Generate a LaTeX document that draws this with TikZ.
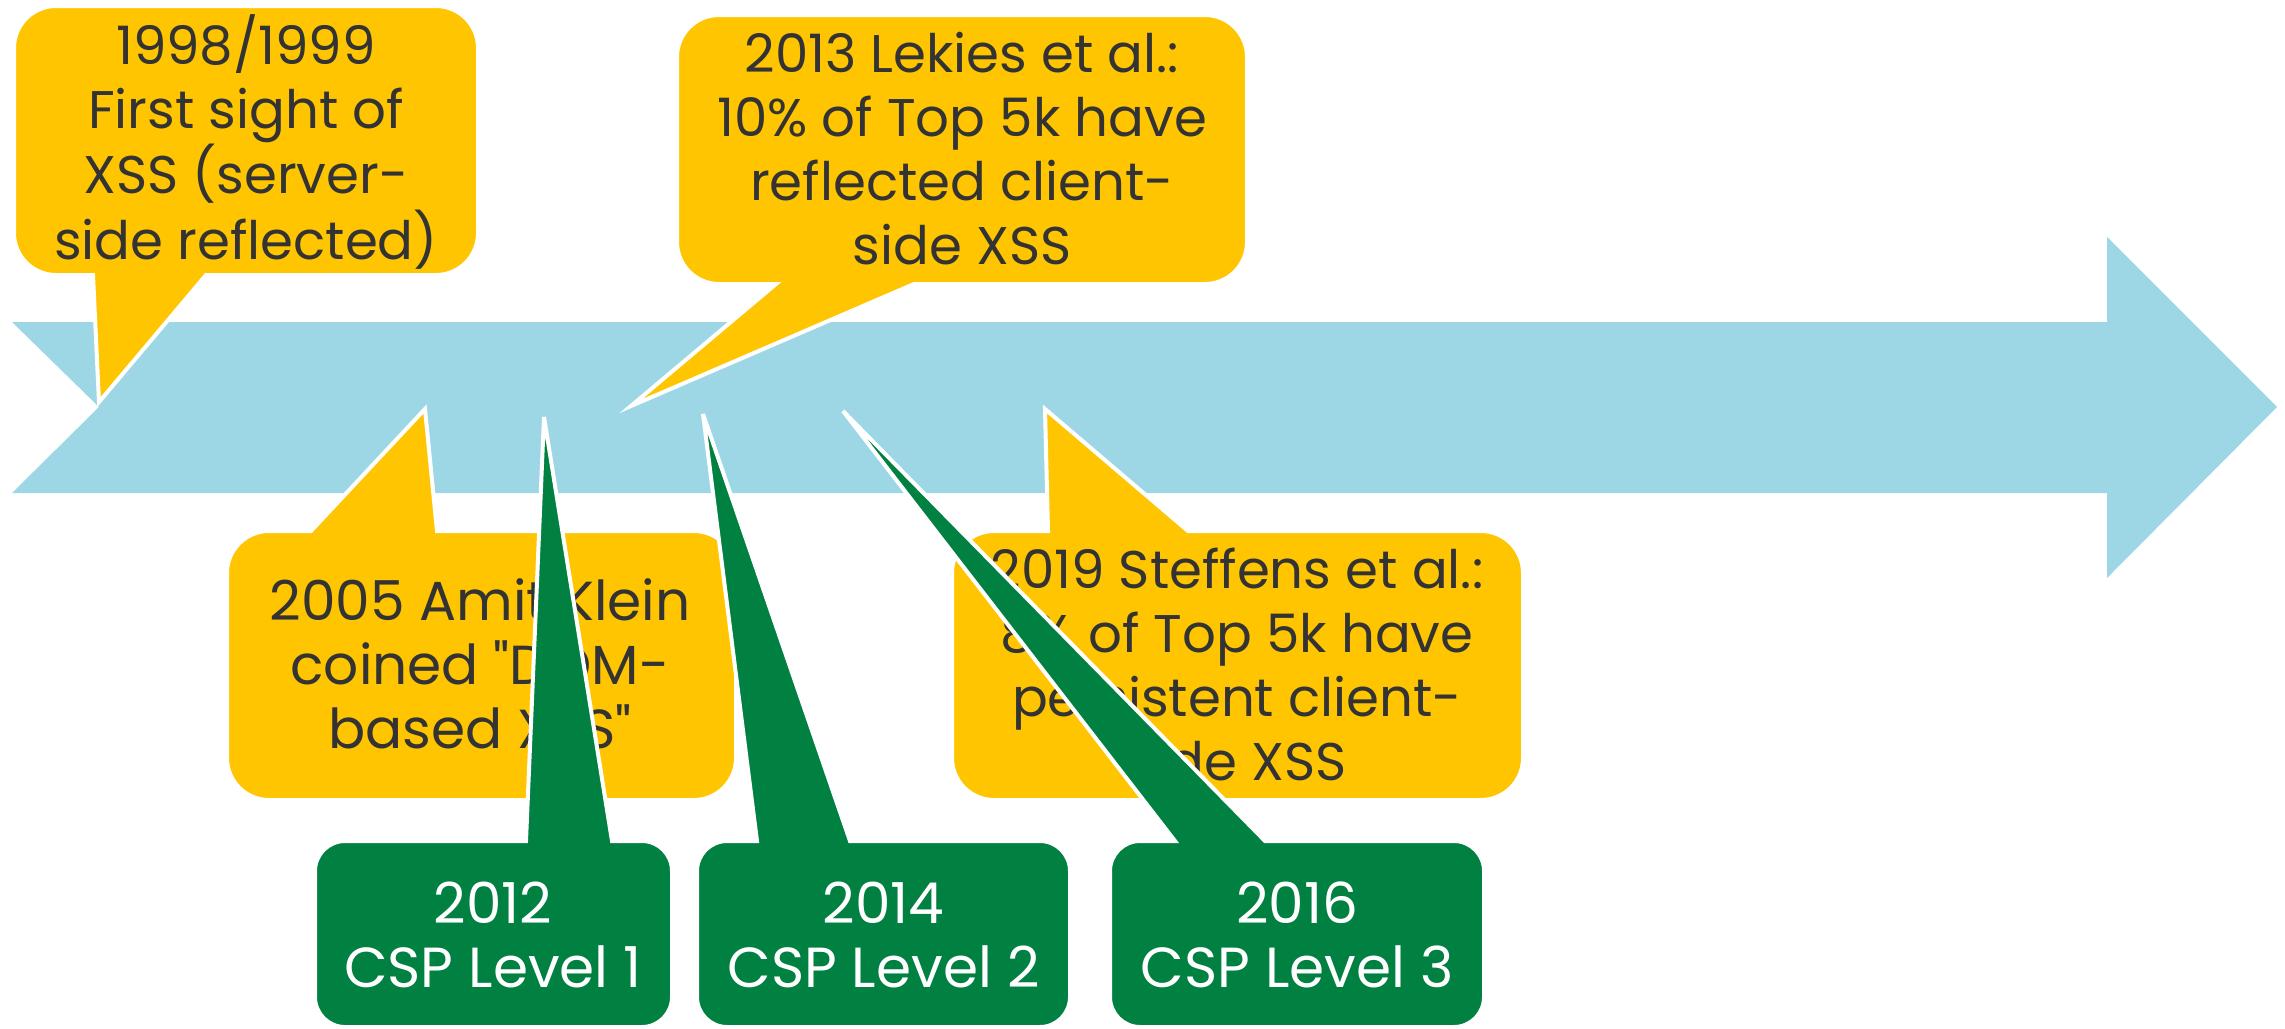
\documentclass[tikz,border=0pt]{standalone}
\usepackage{fontspec}
\newfontfamily\cfont{Poppins}
\definecolor{tlblue}{HTML}{9DD7E5}
\definecolor{cyellow}{HTML}{FFC500}
\definecolor{cgreen}{HTML}{008041}
\definecolor{ctext}{HTML}{333333}
\newcommand\Ls{\rule[-15pt]{0pt}{60pt}}
% callout with pointer on the top edge: style, x1,y1,x2,y2,r, base-left, tip, base-right
\newcommand\calloutT[9]{%
  \pgfmathsetmacro\cbk{0.4477*#6}%
  \path[#1] ({#2+#6},#3) -- (#7) -- (#8) -- (#9) -- ({#4-#6},#3)
    .. controls ({#4-\cbk},#3) and (#4,{#3+\cbk}) .. (#4,{#3+#6})
    -- (#4,{#5-#6}) .. controls (#4,{#5-\cbk}) and ({#4-\cbk},#5) .. ({#4-#6},#5)
    -- ({#2+#6},#5) .. controls ({#2+\cbk},#5) and (#2,{#5-\cbk}) .. (#2,{#5-#6})
    -- (#2,{#3+#6}) .. controls (#2,{#3+\cbk}) and ({#2+\cbk},#3) .. ({#2+#6},#3) -- cycle;}
% callout with pointer on the bottom edge
\newcommand\calloutB[9]{%
  \pgfmathsetmacro\cbk{0.4477*#6}%
  \path[#1] ({#2+#6},#3) -- ({#4-#6},#3)
    .. controls ({#4-\cbk},#3) and (#4,{#3+\cbk}) .. (#4,{#3+#6})
    -- (#4,{#5-#6}) .. controls (#4,{#5-\cbk}) and ({#4-\cbk},#5) .. ({#4-#6},#5)
    -- (#9) -- (#8) -- (#7)
    -- ({#2+#6},#5) .. controls ({#2+\cbk},#5) and (#2,{#5-\cbk}) .. (#2,{#5-#6})
    -- (#2,{#3+#6}) .. controls (#2,{#3+\cbk}) and ({#2+\cbk},#3) .. ({#2+#6},#3) -- cycle;}
\tikzset{
  timeline/.style={fill=tlblue},
  yshape/.style={fill=cyellow, draw=white, line width=4pt, miter limit=8},
  gshape/.style={fill=cgreen, draw=white, line width=4pt, miter limit=8},
  ytxt/.style={inner sep=0pt, align=center, text=ctext, font=\cfont\fontsize{53}{64}\selectfont},
  ytxtbig/.style={ytxt, font=\cfont\fontsize{55}{64}\selectfont},
  gtxt/.style={ytxt, text=white, font=\cfont\fontsize{56.5}{64}\selectfont},
}
\begin{document}
\begin{tikzpicture}[x=1pt, y=-1pt]
\useasboundingbox (0,0) rectangle (2285,1028);
% timeline arrow
\path[timeline] (12,322) -- (2107,322) -- (2107,237) -- (2277,407) -- (2107,578)
  -- (2107,493) -- (12,493) -- (99,407) -- cycle;
% pointer coordinates
\coordinate (a1l) at (93,275);   \coordinate (a1t) at (99,402);   \coordinate (a1r) at (206,275);
\coordinate (a2l) at (311,531);  \coordinate (a2t) at (425,409);  \coordinate (a2r) at (437,531);
\coordinate (a3l) at (776,284);  \coordinate (a3t) at (631,406);  \coordinate (a3r) at (914,284);
\coordinate (a4l) at (1048,531); \coordinate (a4t) at (1045,409); \coordinate (a4r) at (1188,531);
\coordinate (g1l) at (526,841);  \coordinate (g1t) at (544,417);  \coordinate (g1r) at (612,841);
\coordinate (g2l) at (757,841);  \coordinate (g2t) at (703,414);  \coordinate (g2r) at (850,841);
\coordinate (g3l) at (1175,841); \coordinate (g3t) at (843,411);  \coordinate (g3r) at (1265,841);
% yellow callouts
\calloutB{yshape}{14}{6}{478}{275}{42}{a1l}{a1t}{a1r}
\node[ytxt] (c1998) at (246,144.3) {\Ls 1998/1999\\ \Ls First sight of\\ \Ls XSS (server-\\ \Ls side reflected)};
\calloutT{yshape}{227}{531}{736}{800}{42}{a2l}{a2t}{a2r}
\node[ytxtbig] (c2005) at (480,669.7) {\Ls 2005 Amit Klein\\ \Ls coined "DOM-\\ \Ls based XSS"};
\calloutB{yshape}{677}{15}{1247}{284}{42}{a3l}{a3t}{a3r}
\node[ytxt] (c2013) at (962,153.7) {\Ls 2013 Lekies et al.:\\ \Ls 10\% of Top 5k have\\ \Ls reflected client-\\ \Ls side XSS};
\calloutT{yshape}{952}{531}{1523}{800}{42}{a4l}{a4t}{a4r}
\node[ytxt] (c2019) at (1237,669.3) {\Ls 2019 Steffens et al.:\\ \Ls 8\% of Top 5k have\\ \Ls persistent client-\\ \Ls side XSS};
% green callouts
\calloutT{gshape}{315}{841}{672}{1027}{30}{g1l}{g1t}{g1r}
\node[gtxt] (c2012) at (493,940) {\Ls 2012\\ \Ls CSP Level 1};
\calloutT{gshape}{697}{841}{1070}{1027}{30}{g2l}{g2t}{g2r}
\node[gtxt] (c2014) at (883.5,940) {\Ls 2014\\ \Ls CSP Level 2};
\calloutT{gshape}{1110}{841}{1484}{1027}{30}{g3l}{g3t}{g3r}
\node[gtxt] (c2016) at (1297,940) {\Ls 2016\\ \Ls CSP Level 3};
\end{tikzpicture}
\end{document}
